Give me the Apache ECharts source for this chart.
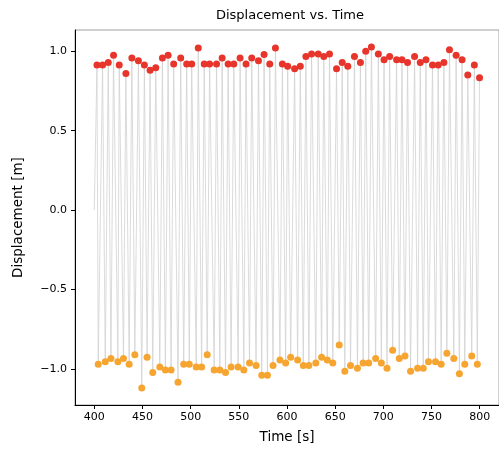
<!DOCTYPE html>
<html>
<head>
<meta charset="utf-8">
<script src="https://cdn.jsdelivr.net/npm/echarts@6/dist/echarts.min.js"></script>
<style>
html,body{margin:0;padding:0;background:#fff;}
#chart{width:499px;height:450px;}
</style>
</head>
<body>
<div id="chart"></div>
<script>
// ---- Data ----
const startTime = 400;
const startValue = 0.0;

const peakTimes = [402.8, 408.6, 414.5, 420.0, 425.9, 432.8, 439.0, 445.8, 452.0, 457.9,
  463.8, 470.7, 476.6, 482.4, 489.7, 495.9, 501.1, 507.9, 514.1, 519.7,
  526.9, 532.7, 538.9, 544.8, 551.3, 557.5, 563.4, 570.4, 576.2, 582.1,
  588.0, 595.2, 600.7, 607.9, 613.8, 619.6, 625.5, 632.4, 638.2, 644.1,
  651.4, 657.3, 663.1, 670.0, 676.2, 681.7, 687.6, 694.8, 700.7, 706.5,
  713.7, 719.3, 725.1, 732.4, 738.3, 744.2, 751.0, 756.9, 762.8, 768.6,
  775.5, 781.7, 787.6, 794.4, 799.8];
const peakValues = [0.914, 0.914, 0.93, 0.975, 0.914, 0.86, 0.958, 0.94, 0.914, 0.88,
  0.897, 0.958, 0.975, 0.92, 0.958, 0.92, 0.92, 1.02, 0.92, 0.92,
  0.92, 0.958, 0.92, 0.92, 0.958, 0.92, 0.958, 0.94, 0.98, 0.92,
  1.02, 0.92, 0.905, 0.89, 0.905, 0.967, 0.983, 0.983, 0.967, 0.983,
  0.89, 0.93, 0.905, 0.967, 0.93, 1.0, 1.027, 0.983, 0.947, 0.967,
  0.947, 0.947, 0.93, 0.967, 0.93, 0.947, 0.914, 0.914, 0.93, 1.01,
  0.975, 0.947, 0.85, 0.914, 0.834];

const troughTimes = [404.1, 411.4, 417.3, 424.5, 430.3, 436.2, 442.1, 449.3, 454.8, 460.7,
  468.0, 473.8, 479.7, 486.9, 492.8, 498.6, 505.8, 511.4, 517.2, 524.4,
  530.3, 536.2, 542.0, 549.3, 555.2, 561.1, 567.9, 573.8, 579.7, 585.5,
  592.7, 598.6, 603.8, 611.0, 616.9, 622.7, 629.9, 635.9, 641.8, 647.5,
  654.2, 660.0, 665.9, 673.1, 679.0, 684.8, 692.0, 697.9, 703.8, 709.6,
  716.5, 722.4, 728.2, 735.5, 741.4, 746.8, 754.1, 760.0, 765.9, 773.1,
  778.9, 784.5, 791.7, 797.5];
const troughValues = [-0.97, -0.954, -0.935, -0.954, -0.935, -0.97, -0.91, -1.12, -0.926, -1.023,
  -0.987, -1.006, -1.006, -1.084, -0.97, -0.97, -0.987, -0.987, -0.91, -1.006,
  -1.006, -1.023, -0.987, -0.987, -1.006, -0.962, -0.979, -1.04, -1.04, -0.979,
  -0.943, -0.962, -0.926, -0.943, -0.979, -0.979, -0.962, -0.926, -0.943, -0.962,
  -0.849, -1.015, -0.979, -0.996, -0.962, -0.962, -0.935, -0.962, -0.996, -0.882,
  -0.935, -0.918, -1.015, -0.996, -0.996, -0.954, -0.954, -0.97, -0.901, -0.935,
  -1.031, -0.97, -0.918, -0.97];

const xTicks = [400, 450, 500, 550, 600, 650, 700, 750, 800];
const yTicks = [-1.0, -0.5, 0.0, 0.5, 1.0];

// ---- Build series data ----
const peakData = peakTimes.map((t, i) => [t, peakValues[i]]);
const troughData = troughTimes.map((t, i) => [t, troughValues[i]]);
const lineData = [[startTime, startValue]].concat(peakData, troughData)
  .sort((a, b) => a[0] - b[0]);

const FONT = 'DejaVu Sans';
const fmtNum = v => {
  const s = Math.abs(v).toFixed(1);
  return v < -1e-9 ? '\u2212' + s : s;
};

const chart = echarts.init(document.getElementById('chart'), null, {renderer: 'canvas'});
chart.setOption({
  animation: false,
  backgroundColor: '#ffffff',
  title: {
    text: 'Displacement vs. Time',
    left: 285, top: 4, textAlign: 'center',
    textStyle: {fontFamily: FONT, fontSize: 13, fontWeight: 'normal', color: '#000'}
  },
  grid: {left: 75, top: 30, width: 426, height: 375, show: true,
         borderColor: '#a0a0a0', borderWidth: 1, backgroundColor: 'transparent'},
  xAxis: {
    type: 'value', min: 380, max: 820,
    name: 'Time [s]', nameLocation: 'middle', nameGap: 25,
    nameTextStyle: {fontFamily: FONT, fontSize: 13.5, color: '#000'},
    axisLine: {show: true, onZero: false, lineStyle: {color: '#000', width: 1}},
    axisTick: {show: true, length: 4, inside: false, customValues: xTicks,
               lineStyle: {color: '#000'}},
    axisLabel: {customValues: xTicks, margin: 7, fontFamily: FONT, fontSize: 11, color: '#000',
                formatter: v => String(Math.round(v))},
    splitLine: {show: false}
  },
  yAxis: {
    type: 'value', min: -1.227, max: 1.134,
    name: 'Displacement [m]', nameLocation: 'middle', nameGap: 50, nameRotate: 90,
    nameTextStyle: {fontFamily: FONT, fontSize: 13.5, color: '#000'},
    axisLine: {show: true, onZero: false, lineStyle: {color: '#000', width: 1}},
    axisTick: {show: true, length: 4, inside: false, customValues: yTicks,
               lineStyle: {color: '#000'}},
    axisLabel: {customValues: yTicks, margin: 8, fontFamily: FONT, fontSize: 11, color: '#000',
                formatter: v => fmtNum(v)},
    splitLine: {show: false}
  },
  series: [
    {
      type: 'line', data: lineData, showSymbol: false, symbol: 'none',
      lineStyle: {color: '#d2d2d2', width: 0.8}, z: 1, silent: true
    },
    {
      type: 'scatter', data: peakData, symbol: 'circle', symbolSize: 7,
      itemStyle: {color: '#e8352c', opacity: 1}, z: 3
    },
    {
      type: 'scatter', data: troughData, symbol: 'circle', symbolSize: 7,
      itemStyle: {color: '#f5a530', opacity: 1}, z: 3
    }
  ]
});
</script>
</body>
</html>
